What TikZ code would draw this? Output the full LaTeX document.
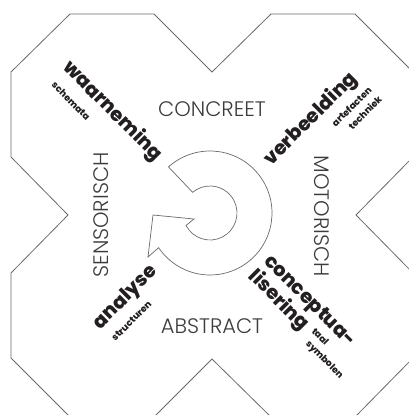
\documentclass[tikz,border=0pt]{standalone}
\usepackage{fontspec}
\setmainfont{Poppins}
\IfFontExistsTF{Poppins Light}{\newfontfamily\lightf{Poppins Light}}{\newfontfamily\lightf{Poppins}}
\IfFontExistsTF{Poppins ExtraBold}{\newfontfamily\heavyf{Poppins ExtraBold}}{%
  \IfFontExistsTF{Poppins Bold}{\newfontfamily\heavyf{Poppins Bold}}{\newfontfamily\heavyf{Poppins}[FakeBold=2]}}
\definecolor{ink}{HTML}{231F20}
\definecolor{capgray}{HTML}{3C3C3C}
\definecolor{edge}{HTML}{6A6A6A}
\tikzset{
  outline/.style={draw=edge, line width=0.8pt, line join=miter},
  arrowline/.style={draw=edge, line width=0.7pt, line join=miter, fill=white},
  capword/.style={inner sep=0pt, text=capgray, font=\lightf\fontsize{21}{21}\selectfont},
  bigword/.style={inner sep=0pt, text=ink, font=\heavyf\fontsize{19.5}{19.5}\selectfont},
  smallword/.style={inner sep=0pt, text=ink, font=\heavyf\fontsize{9.3}{9.3}\selectfont}
}
\begin{document}
\begin{tikzpicture}[x=1pt,y=-1pt]
\useasboundingbox (0,0) rectangle (409,415);
% outer X-shaped outline
\draw[outline] (70,14) -- (154,14) -- (212,72) -- (271,14) -- (355,14) -- (413,72)
  -- (413,157) -- (356,215) -- (413,273) -- (413,358) -- (355,417) -- (271,417)
  -- (212,359) -- (154,417) -- (70,417) -- (11,358) -- (11,273) -- (68,215)
  -- (11,157) -- (11,72) -- cycle;
% circular arrow
\coordinate (C) at (210,213);
\draw[arrowline] (C) ++(-132:62) arc[start angle=-132, end angle=146, radius=62]
  -- (148,257) -- (153,215) -- (194,219) -- (186.05,225.47)
  arc[start angle=152.5, end angle=-130, radius=27] -- cycle;
% axis words
\node[capword] (concreet) at (212,109.5) {CONCREET};
\node[capword] (abstract) at (212,326.5) {ABSTRACT};
\node[capword, rotate=90] (sensorisch) at (101.5,215) {SENSORISCH};
\node[capword, rotate=-90] (motorisch) at (322,216) {MOTORISCH};
% quadrant words
\node[bigword, rotate=-45] (waarneming) at (112.5,111.5) {waarneming};
\node[smallword, rotate=-45] (schemata) at (71,101) {schemata};
\node[bigword, rotate=45] (verbeelding) at (311,119.5) {verbeelding};
\node[smallword, rotate=45] (artefacten) at (351.5,106.5) {artefacten};
\node[smallword, rotate=45] (techniek) at (365,112.5) {techniek};
\node[bigword, rotate=45] (analyse) at (126,298) {analyse};
\node[smallword, rotate=45] (structuren) at (131.5,321) {structuren};
\node[bigword, rotate=-45] (conceptua) at (309,302) {conceptua-};
\node[bigword, rotate=-45] (lisering) at (278.5,300.5) {lisering};
\node[smallword, rotate=-45] (taal) at (320.5,336.5) {taal};
\node[smallword, rotate=-45] (symbolen) at (324,360) {symbolen};
\end{tikzpicture}
\end{document}
